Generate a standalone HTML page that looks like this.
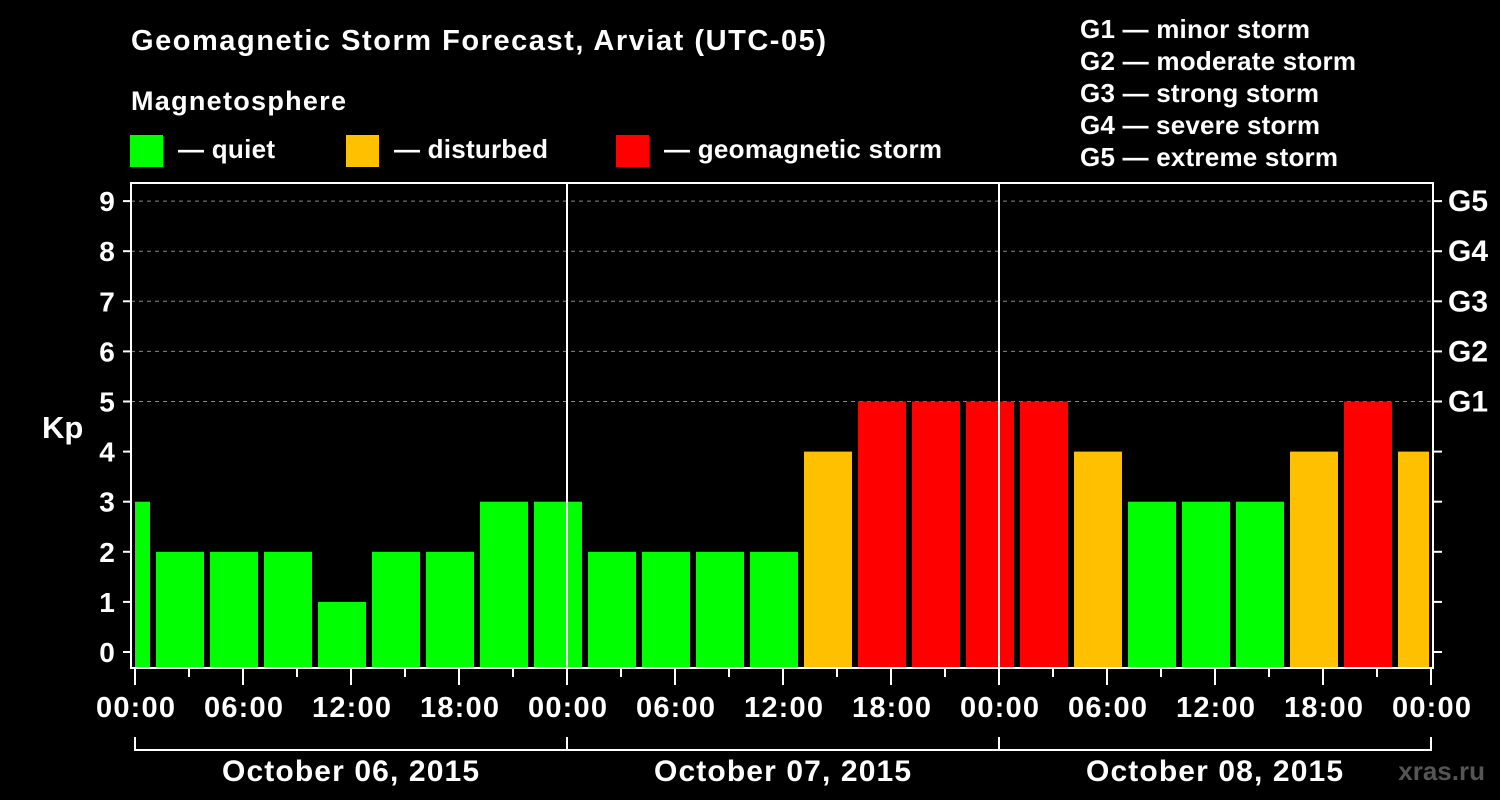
<!DOCTYPE html>
<html><head><meta charset="utf-8"><style>
html,body{margin:0;padding:0;background:#000;}
svg{display:block;font-family:"Liberation Sans",Arial,sans-serif;font-weight:bold;}
</style></head><body>
<svg id="chart" width="1500" height="800" viewBox="0 0 1500 800">
<rect x="0" y="0" width="1500" height="800" fill="#000"/>
<text x="131" y="50" fill="#fff" font-size="29" textLength="695" lengthAdjust="spacing">Geomagnetic Storm Forecast, Arviat (UTC-05)</text>
<text x="131" y="110" fill="#fff" font-size="27" textLength="215" lengthAdjust="spacing">Magnetosphere</text>
<g><rect x="130" y="135" width="33" height="32" fill="#00ff00"/><text x="178" y="158" fill="#fff" font-size="26" textLength="97" lengthAdjust="spacing">— quiet</text></g>
<g><rect x="346" y="135" width="33" height="32" fill="#ffc000"/><text x="394" y="158" fill="#fff" font-size="26" textLength="154" lengthAdjust="spacing">— disturbed</text></g>
<g><rect x="616" y="135" width="33" height="32" fill="#ff0000"/><text x="664" y="158" fill="#fff" font-size="26" textLength="278" lengthAdjust="spacing">— geomagnetic storm</text></g>
<g fill="#fff" font-size="26">
<text x="1080" y="38" textLength="230" lengthAdjust="spacing">G1 — minor storm</text>
<text x="1080" y="70" textLength="276" lengthAdjust="spacing">G2 — moderate storm</text>
<text x="1080" y="102" textLength="239" lengthAdjust="spacing">G3 — strong storm</text>
<text x="1080" y="134" textLength="240" lengthAdjust="spacing">G4 — severe storm</text>
<text x="1080" y="166" textLength="258" lengthAdjust="spacing">G5 — extreme storm</text>
</g>
<text x="42" y="438" fill="#fff" font-size="31">Kp</text>
<text x="1485" y="780" fill="#555" font-size="26" text-anchor="end">xras.ru</text>
<g id="grid"></g><g id="bars"></g><g id="axes"></g>
</svg>
<script>
const kpValues=[3,2,2,2,1,2,2,3,3,2,2,2,2,4,5,5,5,5,4,3,3,3,4,5,4];
const slotStartHours=[-2,1,4,7,10,13,16,19,22,25,28,31,34,37,40,43,46,49,52,55,58,61,64,67,70];
const yTicks=[0,1,2,3,4,5,6,7,8,9];
const gLabels=["G1","G2","G3","G4","G5"];
const gLevels=[5,6,7,8,9];
const xTickLabels=["00:00","06:00","12:00","18:00","00:00","06:00","12:00","18:00","00:00","06:00","12:00","18:00","00:00"];
const dayLabels=["October 06, 2015","October 07, 2015","October 08, 2015"];

const NS="http://www.w3.org/2000/svg";
const L=131,R=1433,T=183,B=668;
const x0=135,pxH=18;
const xS=h=>x0+h*pxH;
const yS=v=>652-v*50.1;
function mk(tag,a,parent,txt){const e=document.createElementNS(NS,tag);for(const k in a)e.setAttribute(k,a[k]);if(txt!==undefined)e.textContent=txt;document.getElementById(parent).appendChild(e);return e;}
const col=v=>v>=5?"#ff0000":(v>=4?"#ffc000":"#00ff00");

gLevels.forEach((v,i)=>{
 const g=mk("line",{x1:L,x2:R,y1:yS(v),y2:yS(v),stroke:"#888","stroke-dasharray":"4,4","stroke-width":1},"grid");
 
 
});
kpValues.forEach((v,i)=>{
 let a=xS(slotStartHours[i])+3,b=xS(slotStartHours[i]+3)-3;
 a=Math.max(a,L+4);b=Math.min(b,R-4);
 const r=mk("rect",{x:a,y:yS(v),width:b-a,height:B-yS(v),fill:col(v)},"bars");
 
 
});
[24,48].forEach(h=>{const l=mk("line",{x1:xS(h),x2:xS(h),y1:T,y2:B,stroke:"#fff","stroke-width":2},"axes");
 
 });
const fr=mk("rect",{x:L,y:T,width:R-L,height:B-T,fill:"none",stroke:"#fff","stroke-width":2},"axes");


yTicks.forEach(v=>{
 mk("line",{x1:L-8,x2:L,y1:yS(v),y2:yS(v),stroke:"#fff","stroke-width":2},"axes");
 mk("line",{x1:R,x2:R+9,y1:yS(v),y2:yS(v),stroke:"#fff","stroke-width":2},"axes");
 const t=mk("text",{x:107,y:yS(v)+10,fill:"#fff","font-size":28,"text-anchor":"middle"},"axes",String(v));
 
 
});
gLabels.forEach((g,i)=>{
 const t=mk("text",{x:1448,y:yS(gLevels[i])+10,fill:"#fff","font-size":30},"axes",g);
 
 
});
for(let h=0;h<=72;h+=3){
 const major=h%6===0;
 mk("line",{x1:xS(h),x2:xS(h),y1:B,y2:major?685:677,stroke:"#fff","stroke-width":2},"axes");
}
xTickLabels.forEach((s,i)=>{
 const t=mk("text",{x:xS(i*6)-39,y:717,fill:"#fff","font-size":29,textLength:79,lengthAdjust:"spacing"},"axes",s);
 
 
});
mk("line",{x1:xS(0),x2:xS(72),y1:750,y2:750,stroke:"#fff","stroke-width":2},"axes");
[0,24,48,72].forEach(h=>mk("line",{x1:xS(h),x2:xS(h),y1:737,y2:751,stroke:"#fff","stroke-width":2},"axes"));
dayLabels.forEach((s,i)=>{
 const t=mk("text",{x:xS(i*24+12)-129,y:781,fill:"#fff","font-size":30,textLength:257,lengthAdjust:"spacing"},"axes",s);
 
 
});
</script>
</body></html>
